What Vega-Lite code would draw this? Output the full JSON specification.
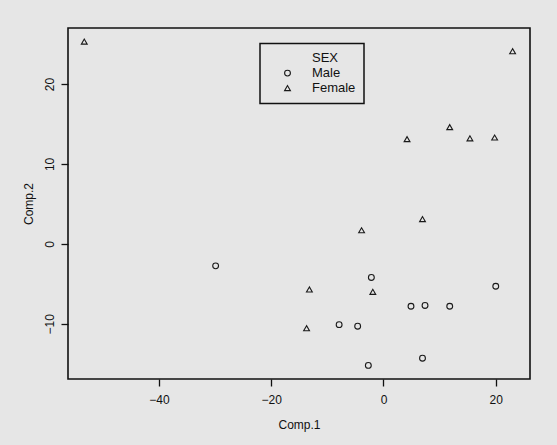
{
  "$schema": "https://vega.github.io/schema/vega-lite/v6.json",
  "width": 462,
  "height": 351,
  "autosize": "none",
  "padding": {"left": 68, "top": 28, "right": 27, "bottom": 66},
  "background": "#e6e6e6",
  "data": {
    "values": [
      {"Comp1": -53.3, "Comp2": 25.3, "SEX": "Female"},
      {"Comp1": 23.0, "Comp2": 24.1, "SEX": "Female"},
      {"Comp1": 4.2, "Comp2": 13.1, "SEX": "Female"},
      {"Comp1": 11.8, "Comp2": 14.6, "SEX": "Female"},
      {"Comp1": 15.4, "Comp2": 13.2, "SEX": "Female"},
      {"Comp1": 19.8, "Comp2": 13.3, "SEX": "Female"},
      {"Comp1": 6.95, "Comp2": 3.1, "SEX": "Female"},
      {"Comp1": -3.9, "Comp2": 1.7, "SEX": "Female"},
      {"Comp1": -13.2, "Comp2": -5.7, "SEX": "Female"},
      {"Comp1": -1.9, "Comp2": -6.0, "SEX": "Female"},
      {"Comp1": -13.7, "Comp2": -10.55, "SEX": "Female"},
      {"Comp1": -29.9, "Comp2": -2.75, "SEX": "Male"},
      {"Comp1": -2.16, "Comp2": -4.2, "SEX": "Male"},
      {"Comp1": 20.0, "Comp2": -5.3, "SEX": "Male"},
      {"Comp1": 4.9, "Comp2": -7.8, "SEX": "Male"},
      {"Comp1": 7.4, "Comp2": -7.7, "SEX": "Male"},
      {"Comp1": 11.8, "Comp2": -7.8, "SEX": "Male"},
      {"Comp1": -7.9, "Comp2": -10.1, "SEX": "Male"},
      {"Comp1": -4.6, "Comp2": -10.3, "SEX": "Male"},
      {"Comp1": 6.95, "Comp2": -14.3, "SEX": "Male"},
      {"Comp1": -2.7, "Comp2": -15.2, "SEX": "Male"}
    ]
  },
  "mark": {"type": "point", "filled": false, "size": 34, "strokeWidth": 1.1, "color": "#1a1a1a", "opacity": 1},
  "encoding": {
    "x": {
      "field": "Comp1", "type": "quantitative", "title": "Comp.1",
      "scale": {"domain": [-56.2, 26.1], "nice": false, "zero": false},
      "axis": {"values": [-40, -20, 0, 20]}
    },
    "y": {
      "field": "Comp2", "type": "quantitative", "title": "Comp.2",
      "scale": {"domain": [-16.9, 27.0], "nice": false, "zero": false},
      "axis": {"values": [-10, 0, 10, 20], "labelAngle": 270, "labelAlign": "center", "labelBaseline": "bottom", "labelPadding": 5, "titlePadding": 8}
    },
    "shape": {
      "field": "SEX", "type": "nominal",
      "scale": {"domain": ["SEX", "Male", "Female"], "range": ["M0,0", "circle", "triangle-up"]},
      "legend": {"title": null, "orient": "none", "legendX": 192, "legendY": 15.6}
    }
  },
  "config": {
    "font": "Liberation Sans",
    "view": {"stroke": "#111", "strokeWidth": 1.6, "fill": null},
    "axis": {
      "grid": false, "domain": false, "tickColor": "#111", "tickSize": 7, "tickWidth": 1.3,
      "labelFont": "Liberation Sans", "labelFontSize": 12, "labelColor": "#111",
      "titleFont": "Liberation Sans", "titleFontSize": 12, "titleFontWeight": "normal", "titleColor": "#111"
    },
    "axisX": {"labelPadding": 8, "titlePadding": 14, "labelFlush": false},
    "legend": {
      "strokeColor": "#111", "strokeWidth": 1.5, "padding": 8, "fillColor": "#e6e6e6",
      "labelFont": "Liberation Sans", "labelFontSize": 13, "labelColor": "#111",
      "symbolOffset": 13, "labelOffset": 18, "symbolSize": 34, "symbolStrokeWidth": 1.1,
      "symbolStrokeColor": "#1a1a1a", "symbolFillColor": "transparent", "rowPadding": 1
    }
  }
}
